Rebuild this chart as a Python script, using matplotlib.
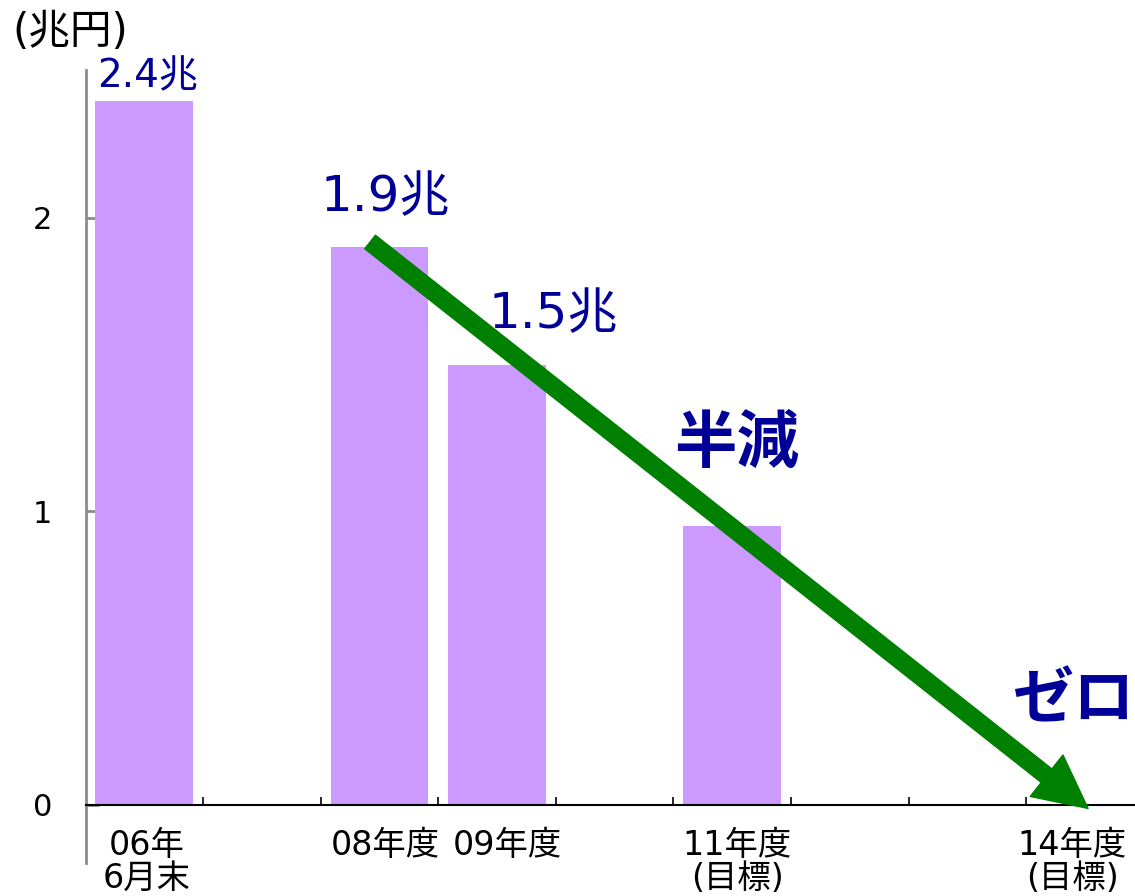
import matplotlib
matplotlib.use("Agg")
import matplotlib.pyplot as plt

# Latin digits from DejaVu, kanji/kana fall back to Noto CJK
plt.rcParams['font.family'] = ['DejaVu Sans', 'Noto Sans CJK JP']

# Slot index of each category along the x axis (9 equal slots)
slot_labels = ['06年\n6月末', '08年度', '09年度', '11年度\n(目標)', '14年度\n(目標)']
slot_index = [0, 2, 3, 5, 8]
# Balance in trillion yen (14年度 target is zero, no bar)
values = [2.4, 1.9, 1.5, 0.95, 0.0]
value_texts = ['2.4兆', '1.9兆', '1.5兆']
n_slots = 9

BAR_COLOR = '#CC99FF'
NAVY = '#000099'
GREEN = '#008000'

fig = plt.figure(figsize=(11.35, 8.96), dpi=100)
ax = fig.add_axes([85.5 / 1135, (896 - 863) / 896, 1 - 85.5 / 1135, (863 - 70) / 896])

centers = [i + 0.5 for i in slot_index]
ax.bar(centers[:4], values[:4], width=0.83, color=BAR_COLOR, zorder=2)

ax.set_xlim(0, (1135 - 85.5) / 117.6)
ax.set_ylim(-0.198, 2.504)

# axes styling
ax.spines['top'].set_visible(False)
ax.spines['right'].set_visible(False)
ax.spines['left'].set_color('#8c8c8c')
ax.spines['left'].set_linewidth(2)
ax.spines['bottom'].set_position(('data', 0))
ax.spines['bottom'].set_linewidth(1.5)
ax.spines['bottom'].set_zorder(3)

ax.set_yticks([0, 1, 2])
ax.set_yticklabels(['0', '1', '2'])
ax.tick_params(axis='y', direction='in', length=9, width=2, color='#8c8c8c',
               labelsize=22, pad=24)

ax.set_xticks(range(1, n_slots))
ax.set_xticklabels([])
ax.tick_params(axis='x', which='major', direction='in', length=6, width=1.2)
# category labels sit near the middle of their slot
label_x = [0.523, 2.547, 3.585, 5.54, 8.39]
ax.set_xticks(label_x, minor=True)
ax.set_xticklabels(slot_labels, minor=True, fontsize=24, linespacing=1.0)
ax.tick_params(axis='x', which='minor', length=0, pad=17)

# value labels above bars
ax.text(centers[0] + 0.03, 2.484, value_texts[0], color=NAVY, fontsize=28,
        ha='center', va='center')
ax.text(centers[1] + 0.05, 2.072, value_texts[1], color=NAVY, fontsize=36,
        ha='center', va='center')
ax.text(3.98, 1.672, value_texts[2], color=NAVY, fontsize=36,
        ha='center', va='center')
ax.text(5.54, 1.227, '半減', color=NAVY, fontsize=45, fontweight='bold',
        ha='center', va='center')
ax.text(8.41, 0.351, 'ゼロ', color=NAVY, fontsize=44, fontweight='bold',
        ha='center', va='center')

# downward trend arrow toward zero
ax.annotate('', xy=(8.525, -0.012), xytext=(2.42, 1.918),
            arrowprops=dict(arrowstyle='simple,head_length=1.9,head_width=1.9,tail_width=0.62',
                            mutation_scale=20, color=GREEN, shrinkA=0, shrinkB=0),
            zorder=4, annotation_clip=False)

fig.text(12 / 1135, 1 - 32 / 896, '(兆円)', fontsize=30, ha='left', va='center')

fig.savefig('out.png', dpi=100)
